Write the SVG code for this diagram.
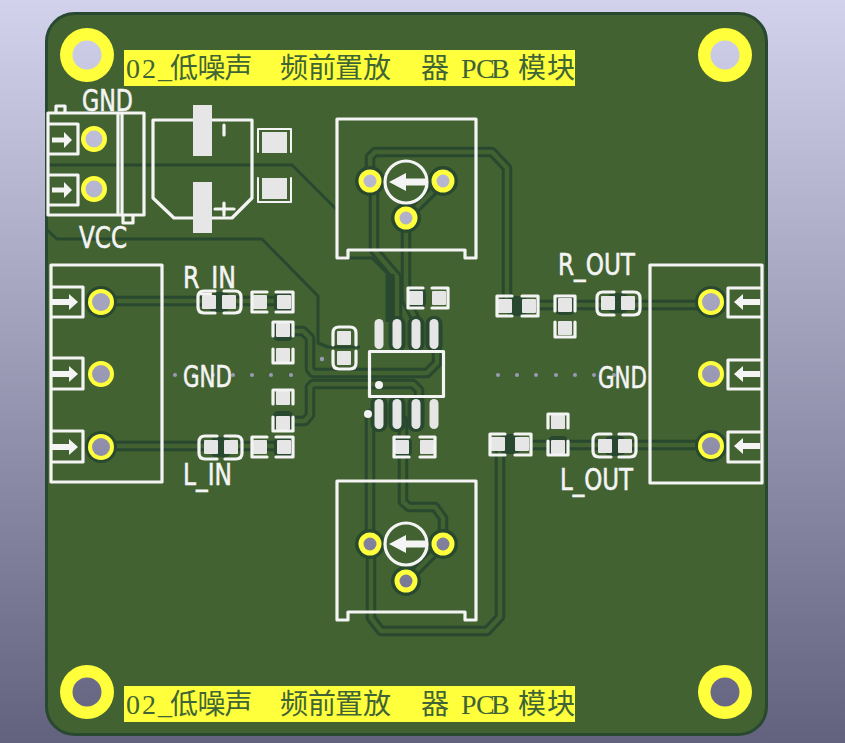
<svg xmlns="http://www.w3.org/2000/svg" width="845" height="743" viewBox="0 0 845 743">
<style>
.t{fill:none;stroke-linejoin:round;stroke-linecap:round}
.pw{fill:none;stroke:#28492f;stroke-width:3;stroke-linejoin:round}
.s{fill:none;stroke:#f4f4f4;stroke-width:3.200;stroke-linejoin:round;stroke-linecap:round}
.a{fill:#f4f4f4}
.p{fill:#e6e6e6}
.h{fill:#28492f}
.y{fill:#ffff3c}
.v{fill:#9a9ab4}
.silk{font-family:"DejaVu Sans","Liberation Sans",sans-serif;font-size:30px;fill:#f4f4f4;stroke:#f4f4f4;stroke-width:.6}
.cu{font-family:"Liberation Serif","Noto Sans CJK SC",serif;font-size:28px;fill:#3f6536}
</style>
<defs>
<linearGradient id="bg" gradientUnits="userSpaceOnUse" x1="0" y1="0" x2="0" y2="743"><stop offset="0" stop-color="#d2d2ec"/><stop offset="1" stop-color="#62627f"/></linearGradient>
<rect id="pd" class="p" x="-7" y="-7" width="14" height="14" rx="1"/>
<rect id="hl" class="h" x="-10" y="-10" width="20" height="20" rx="5"/>
<rect id="pin" class="p" x="-4.500" y="-15" width="9" height="30" rx="4.500"/>
<rect id="pinh" class="h" x="-8.500" y="-18" width="17" height="36" rx="8"/>
<g id="tracks">
<path d="M101 301H209M229 301H284M101 446H211M231 446H284"/>
<path d="M284 331H303L310 338V369L313 373H427L437 363V330"/>
<path d="M284 421H305L310 415V387L313 384H413L419 390V414"/>
<path d="M370 181V157L375 152H492L507 168V305M505 305H711"/>
<path d="M374 190V250L397 277V330"/>
<path d="M406 218V300L416 320V330M443 181L406 218"/>
<path d="M370 414V544M371 544V618L381 631H487L500 617V445M498 445H711"/>
<path d="M443 544V518L435 507H409L403 502V420M443 544L406 581"/>
</g>
</defs>
<rect id="background" width="845" height="743" fill="url(#bg)"/>
<rect id="board" x="46.500" y="13.500" width="720" height="721" rx="28" fill="#426231" stroke="#28492f" stroke-width="3"/>

<g id="connectors">
<path class="pw" d="M47 165H292L337 210V258H372L390 276V322"/>
<path class="pw" d="M46 229L57 239H262L318 296V343L328 347H360"/>
<use href="#tracks" class="t" stroke="#28492f" stroke-width="10.500"/>
<use href="#tracks" class="t" stroke="#426231" stroke-width="4.500"/>
<path d="M390 274V322" fill="none" stroke="#28492f" stroke-width="9"/>
</g>

<g id="vias">
<circle class="v" cx="322" cy="359" r="2.200"/>
<g class="v"><circle cx="175" cy="375" r="2"/><circle cx="194" cy="375" r="2"/><circle cx="213" cy="375" r="2"/><circle cx="233" cy="375" r="2"/><circle cx="252" cy="375" r="2"/><circle cx="271" cy="375" r="2"/><circle cx="291" cy="375" r="2"/><circle cx="498" cy="375" r="2"/><circle cx="517" cy="375" r="2"/><circle cx="536" cy="375" r="2"/><circle cx="556" cy="375" r="2"/><circle cx="575" cy="375" r="2"/><circle cx="594" cy="375" r="2"/><circle cx="614" cy="375" r="2"/></g>
</g>

<g id="mount-holes">
<circle class="y" cx="87" cy="55" r="27"/><circle cx="87" cy="55" r="14.500" fill="url(#bg)"/>
<circle class="y" cx="725" cy="55" r="27"/><circle cx="725" cy="55" r="14.500" fill="url(#bg)"/>
<circle class="y" cx="87" cy="692" r="27"/><circle cx="87" cy="692" r="14.500" fill="url(#bg)"/>
<circle class="y" cx="725" cy="692" r="27"/><circle cx="725" cy="692" r="14.500" fill="url(#bg)"/>
</g>

<g id="title-top">
<rect class="y" x="124" y="50" width="451" height="36"/>
<text class="cu" y="78"><tspan x="126 142 158">02_</tspan><tspan x="170 197.500 224.500">低噪声</tspan><tspan x="280 308 335 363">频前置放</tspan><tspan x="421">器</tspan><tspan x="461 476 491">PCB</tspan><tspan x="518 547">模块</tspan></text>
</g>
<g id="title-bottom">
<rect class="y" x="124" y="686" width="451" height="36"/>
<text class="cu" y="714"><tspan x="126 142 158">02_</tspan><tspan x="170 197.500 224.500">低噪声</tspan><tspan x="280 308 335 363">频前置放</tspan><tspan x="421">器</tspan><tspan x="461 476 491">PCB</tspan><tspan x="518 547">模块</tspan></text>
</g>

<g id="J-power">
<circle class="y" cx="94" cy="139" r="13"/><circle cx="94" cy="139" r="8.500" fill="url(#bg)"/>
<circle class="y" cx="94" cy="189" r="13"/><circle cx="94" cy="189" r="8.500" fill="url(#bg)"/>
<path class="s" d="M48 113H144V215H48ZM118 113V215M122 113V215M56 113V106H65V113M123 216V223H133V216M48 124H78V154H48M48 175H78V205H48"/>
<path class="a" d="M72 140L64 132V137.500H52V142.500H64V148ZM72 190L64 182V187.500H52V192.500H64V198Z"/>
<text class="silk" x="82" y="111" textLength="51" lengthAdjust="spacingAndGlyphs">GND</text>
<text class="silk" x="79" y="248" textLength="48" lengthAdjust="spacingAndGlyphs">VCC</text>
</g>

<g id="C-electrolytic">
<path class="s" d="M193 120H153V198L174 218H193M212 120H252V198L232 218H212M224 125V135M215 209H234M224 203V215"/>
<rect class="p" x="193" y="105" width="19" height="51"/>
<rect class="p" x="193" y="182" width="19" height="51"/>
</g>
<g id="C-power">
<rect class="p" x="262" y="132" width="25" height="21"/>
<rect class="p" x="262" y="178" width="25" height="21"/>
<path class="s" style="stroke-width:2" d="M258 152V129H291V152M258 178V202H291V178"/>
</g>

<g id="RV-top">
<circle class="h" cx="370" cy="181" r="15"/><circle class="h" cx="443" cy="181" r="15"/><circle class="h" cx="406" cy="218" r="15"/>
<circle class="y" cx="370" cy="181" r="11.500"/><circle cx="370" cy="181" r="6.500" fill="url(#bg)"/>
<circle class="y" cx="443" cy="181" r="11.500"/><circle cx="443" cy="181" r="6.500" fill="url(#bg)"/>
<circle class="y" cx="406" cy="218" r="11.500"/><circle cx="406" cy="218" r="6.500" fill="url(#bg)"/>
<path class="s" d="M337 258V119H476V258H465V250H348V258Z"/>
<circle class="s" cx="406" cy="182" r="21"/>
<path class="a" d="M389 182L406 173V178.500H427V185.500H406V191Z"/>
</g>
<g id="RV-bottom">
<circle class="h" cx="370" cy="544" r="15"/><circle class="h" cx="443" cy="544" r="15"/><circle class="h" cx="406" cy="581" r="15"/>
<circle class="y" cx="370" cy="544" r="11.500"/><circle cx="370" cy="544" r="6.500" fill="url(#bg)"/>
<circle class="y" cx="443" cy="544" r="11.500"/><circle cx="443" cy="544" r="6.500" fill="url(#bg)"/>
<circle class="y" cx="406" cy="581" r="11.500"/><circle cx="406" cy="581" r="6.500" fill="url(#bg)"/>
<path class="s" d="M337 620V481H476V620H465V612H348V620Z"/>
<circle class="s" cx="406" cy="544" r="21"/>
<path class="a" d="M389 544L406 535V540.500H427V547.500H406V553Z"/>
</g>

<g id="J-left">
<circle class="h" cx="101" cy="302" r="16"/><circle class="h" cx="101" cy="447" r="16"/>
<circle class="y" cx="101" cy="302" r="13"/><circle cx="101" cy="302" r="9" fill="url(#bg)"/>
<circle class="y" cx="101" cy="374" r="13"/><circle cx="101" cy="374" r="9" fill="url(#bg)"/>
<circle class="y" cx="101" cy="447" r="13"/><circle cx="101" cy="447" r="9" fill="url(#bg)"/>
<path class="s" d="M51 265H162V482H51ZM52 287H83V317H52M52 358H83V389H52M52 431H83V462H52"/>
<path class="a" d="M78 302L69 294V299H52V305H69V310ZM78 374L69 366V371H52V377H69V382ZM78 447L69 439V444H52V450H69V455Z"/>
</g>
<g id="J-right">
<circle class="h" cx="711" cy="302" r="16"/><circle class="h" cx="711" cy="446" r="16"/>
<circle class="y" cx="711" cy="302" r="13"/><circle cx="711" cy="302" r="9" fill="url(#bg)"/>
<circle class="y" cx="711" cy="374" r="13"/><circle cx="711" cy="374" r="9" fill="url(#bg)"/>
<circle class="y" cx="711" cy="446" r="13"/><circle cx="711" cy="446" r="9" fill="url(#bg)"/>
<path class="s" d="M650 265H762V483H650ZM760 288H728V317H760M760 360H728V389H760M760 432H728V462H760"/>
<path class="a" d="M734 302L743 294V299H760V305H743V310ZM734 374L743 366V371H760V377H743V382ZM734 446L743 438V443H760V449H743V454Z"/>
</g>

<g id="U1">
<use href="#pinh" x="397" y="334"/><use href="#pinh" x="416" y="334"/><use href="#pinh" x="434" y="334"/>
<use href="#pinh" x="379" y="414"/><use href="#pinh" x="397" y="414"/><use href="#pinh" x="416" y="414"/>
<use href="#pin" x="379" y="334"/><use href="#pin" x="397" y="334"/><use href="#pin" x="416" y="334"/><use href="#pin" x="434" y="334"/>
<use href="#pin" x="379" y="414"/><use href="#pin" x="397" y="414"/><use href="#pin" x="416" y="414"/><use href="#pin" x="434" y="414"/>
<rect class="s" x="369.500" y="351.500" width="74" height="45"/>
<circle class="a" cx="379" cy="385" r="4"/><circle class="a" cx="368" cy="414" r="4"/>
</g>

<g id="JP-R-IN">
<use href="#hl" x="219" y="302"/><use href="#pd" x="209" y="302"/><use href="#pd" x="229" y="302"/>
<path class="s" d="M215 291H204Q198 291 198 297V307Q198 313 204 313H215M224 291H235Q241 291 241 297V307Q241 313 235 313H224"/>
<text class="silk" x="183" y="288" textLength="53" lengthAdjust="spacingAndGlyphs">R_IN</text>
</g>
<g id="R-R-IN">
<use href="#hl" x="284" y="302"/><use href="#pd" x="260" y="302"/><use href="#pd" x="284" y="302"/>
<path class="s" d="M267 292H252V312H267M276 292H293V312H276"/>
</g>
<g id="C-R-A">
<use href="#hl" x="283" y="331"/><use href="#pd" x="283" y="330"/>
<path class="s" d="M273 336V322H293V336"/>
</g>
<g id="C-R-B">
<use href="#pd" x="283" y="355"/>
<path class="s" d="M273 349V363H293V349"/>
</g>
<g id="C-bypass">
<use href="#pd" x="344" y="338"/><use href="#pd" x="344" y="358"/>
<path class="s" d="M333 345V333Q333 327 339 327H350Q356 327 356 333V345M333 351V363Q333 369 339 369H350Q356 369 356 363V351"/>
</g>
<g id="C-L-A">
<use href="#pd" x="283" y="398"/>
<path class="s" d="M273 404V390H293V404"/>
</g>
<g id="C-L-B">
<use href="#hl" x="283" y="421"/><use href="#pd" x="283" y="423"/>
<path class="s" d="M273 417V431H293V417"/>
</g>
<g id="JP-L-IN">
<use href="#hl" x="221" y="447"/><use href="#pd" x="211" y="447"/><use href="#pd" x="231" y="447"/>
<path class="s" d="M217 436H205Q199 436 199 442V453Q199 459 205 459H217M225 436H236Q242 436 242 442V453Q242 459 236 459H225"/>
<text class="silk" x="183" y="485" textLength="49" lengthAdjust="spacingAndGlyphs">L_IN</text>
</g>
<g id="R-L-IN">
<use href="#hl" x="284" y="447"/><use href="#pd" x="260" y="447"/><use href="#pd" x="284" y="447"/>
<path class="s" d="M267 437H252V457H267M276 437H293V457H276"/>
</g>
<text id="label-gnd-left" class="silk" x="183" y="387" textLength="49" lengthAdjust="spacingAndGlyphs">GND</text>
<g id="R-U1-top">
<use href="#hl" x="416" y="298"/><use href="#pd" x="416" y="298"/><use href="#pd" x="439" y="298"/>
<path class="s" d="M423 288H408V308H423M432 288H448V308H432"/>
</g>
<g id="R-U1-bottom">
<use href="#hl" x="402" y="447"/><use href="#pd" x="402" y="447"/><use href="#pd" x="427" y="447"/>
<path class="s" d="M409 437H394V457H409M420 437H435V457H420"/>
</g>
<g id="R-R-OUT">
<use href="#hl" x="517" y="306"/><use href="#pd" x="505" y="306"/><use href="#pd" x="529" y="306"/>
<path class="s" d="M512 296H497V316H512M522 296H538V316H522"/>
</g>
<g id="C-R-OUT-A">
<use href="#hl" x="565" y="305"/><use href="#pd" x="565" y="305"/>
<path class="s" d="M555 311V296H575V311"/>
</g>
<g id="C-R-OUT-B">
<use href="#pd" x="565" y="328"/>
<path class="s" d="M555 322V337H575V322"/>
</g>
<g id="JP-R-OUT">
<use href="#hl" x="618" y="303"/><use href="#pd" x="608" y="303"/><use href="#pd" x="628" y="303"/>
<path class="s" d="M614 292H603Q597 292 597 298V309Q597 315 603 315H614M623 292H634Q640 292 640 298V309Q640 315 634 315H623"/>
<text class="silk" x="558" y="275" textLength="77" lengthAdjust="spacingAndGlyphs">R_OUT</text>
</g>
<text id="label-gnd-right" class="silk" x="598" y="388" textLength="49" lengthAdjust="spacingAndGlyphs">GND</text>
<g id="C-L-OUT-A">
<use href="#pd" x="558" y="422"/>
<path class="s" d="M548 428V414H568V428"/>
</g>
<g id="C-L-OUT-B">
<use href="#hl" x="558" y="446"/><use href="#pd" x="558" y="447"/>
<path class="s" d="M548 441V455H568V441"/>
</g>
<g id="R-L-OUT">
<use href="#hl" x="510" y="444"/><use href="#pd" x="498" y="444"/><use href="#pd" x="522" y="444"/>
<path class="s" d="M505 434H490V455H505M515 434H531V455H515"/>
</g>
<g id="JP-L-OUT">
<use href="#hl" x="615" y="446"/><use href="#pd" x="605" y="446"/><use href="#pd" x="625" y="446"/>
<path class="s" d="M611 434H599Q593 434 593 440V451Q593 457 599 457H611M619 434H630Q636 434 636 440V451Q636 457 630 457H619"/>
<text class="silk" x="560" y="490" textLength="73" lengthAdjust="spacingAndGlyphs">L_OUT</text>
</g>
</svg>
